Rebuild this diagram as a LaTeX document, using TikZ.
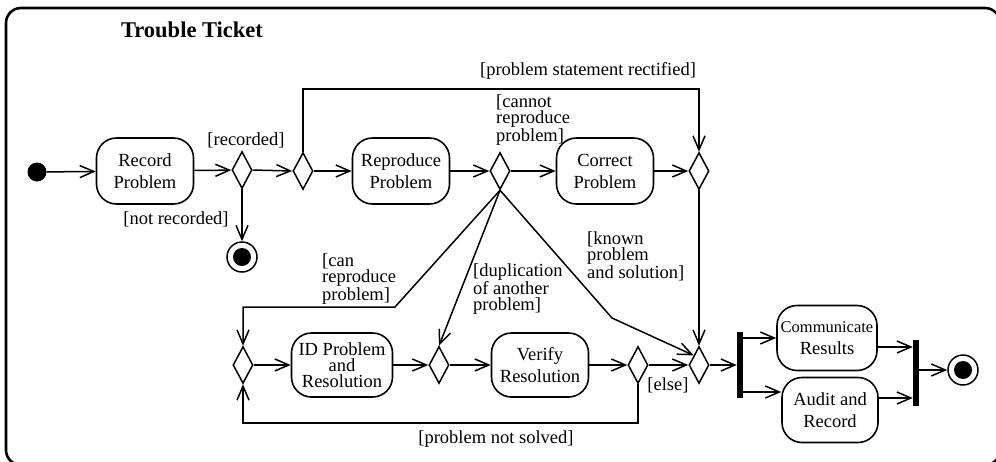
\documentclass[tikz,border=0pt]{standalone}
\usepackage{fontspec}
\setmainfont{Liberation Serif}
\usetikzlibrary{shapes.geometric,arrows.meta}
\begin{document}
\begin{tikzpicture}[x=1pt,y=-1pt,
  flow/.style={line width=1.5pt, -{Straight Barb[length=14pt,width=12pt,line width=1.5pt]}},
  action/.style={draw, line width=1.6pt, rounded corners=20pt, align=center, inner sep=0pt,
    minimum width=97pt, minimum height=66pt, font={\fontsize{18.5}{22}\selectfont}},
  decision/.style={draw, diamond, line width=1.5pt, inner sep=0pt, minimum width=20pt, minimum height=37pt},
  bar/.style={fill, inner sep=0pt, minimum width=6pt, minimum height=66pt},
  start/.style={circle, fill, inner sep=0pt, minimum size=19pt},
  stop/.style={circle, draw, line width=1.5pt, inner sep=0pt, minimum size=30pt,
    path picture={\fill (path picture bounding box.center) circle (9pt);}},
  guard/.style={inner sep=0pt, font={\fontsize{18.5}{22}\selectfont}},
  guards/.style={inner sep=0pt, align=left, font={\fontsize{18.5}{16.5}\selectfont}}]
\useasboundingbox (0,0) rectangle (996,461);
% frame
\draw[line width=2.6pt, rounded corners=15pt] (6,8) rectangle (1000,465);
\node[inner sep=0pt, font={\fontsize{22.5}{26}\selectfont\bfseries}] (title) at (192,30) {Trouble Ticket};
% upper row
\node[start] (init) at (37,172) {};
\node[action] (rec) at (145,171) {Record\\Problem};
\node[decision] (d1) at (242,170) {};
\node[stop] (fin1) at (242,257) {};
\node[decision] (d2) at (303,171) {};
\node[action] (rep) at (401,171) {Reproduce\\Problem};
\node[decision] (d3) at (500,171) {};
\node[action] (cor) at (605,171) {Correct\\Problem};
\node[decision] (d4) at (699,171) {};
% lower row
\node[decision] (d6) at (243,365) {};
\node[action, minimum width=101pt, minimum height=64pt, font={\fontsize{18.5}{16}\selectfont}] (idr) at (342,365) {ID Problem\\and\\Resolution};
\node[decision] (d7) at (439,365) {};
\node[action, minimum height=64pt] (ver) at (540,365) {Verify\\Resolution};
\node[decision] (d8) at (638,365) {};
\node[decision] (d5) at (699,365) {};
\node[bar] (fork) at (740,365) {};
\node[action, minimum width=100pt, minimum height=65pt] (com) at (827,338) {{\fontsize{16.5}{22}\selectfont Communicate}\\Results};
\node[action, minimum width=96pt, minimum height=65pt] (aud) at (830,410) {Audit and\\Record};
\node[bar] (join) at (916,373) {};
\node[stop] (fin2) at (963,370) {};
% bends
\coordinate (rtop) at (699,89);
\coordinate (cbend) at (395,307);
\coordinate (kbend) at (612,318);
\coordinate (lbot) at (243,423);
% guards
\node[guard] (g1) at (246,140) {[recorded]};
\node[guard] (g2) at (176,219) {[not recorded]};
\node[guard] (g3) at (588,71) {[problem statement rectified]};
\node[guards, anchor=west] (g4) at (496,120) {[cannot\\reproduce\\problem]};
\node[guards, anchor=west] (g5) at (322,279) {[can\\reproduce\\problem]};
\node[guards, anchor=west] (g6) at (473,289) {[duplication\\of another\\problem]};
\node[guards, anchor=west] (g7) at (587,256) {[known\\problem\\and solution]};
\node[guard] (g8) at (668,385) {[else]};
\node[guard] (g9) at (496,439) {[problem not solved]};
% flows
\draw[flow] (init) -- (rec);
\draw[flow] (rec) -- (d1);
\draw[flow] (d1.east) -- (d2.west);
\draw[flow] (d1.south) -- (fin1);
\draw[flow] (d2) -- (rep);
\draw[flow] (d2.north) |- (rtop) -- (d4.north);
\draw[flow] (rep) -- (d3);
\draw[flow] (d3) -- (cor);
\draw[flow] (cor) -- (d4);
\draw[flow] (d4.south) -- (d5.north);
\draw[flow] (d3.south) -- (cbend) -| (d6.north);
\draw[flow] (d3.south) -- (d7.north);
\draw[flow] (d3.south) -- (kbend) -- (d5.north west);
\draw[flow] (d6) -- (idr);
\draw[flow] (idr) -- (d7);
\draw[flow] (d7) -- (ver);
\draw[flow] (ver) -- (d8);
\draw[flow] (d8) -- (d5);
\draw[flow] (d8.south) |- (lbot) -- (d6.south);
\draw[flow] (d5.east) -- (fork.west);
\draw[flow] (fork.east |- com.west) -- (com.west);
\draw[flow] ([yshift=18pt]fork.east |- aud.west) -- ([yshift=18pt]aud.west);
\draw[flow] ([yshift=-9pt]com.east) -- ([yshift=-9pt]com.east -| join.west);
\draw[flow] ([yshift=12pt]aud.east) -- ([yshift=12pt]aud.east -| join.west);
\draw[flow] (join.east |- fin2) -- (fin2);
\end{tikzpicture}
\end{document}
